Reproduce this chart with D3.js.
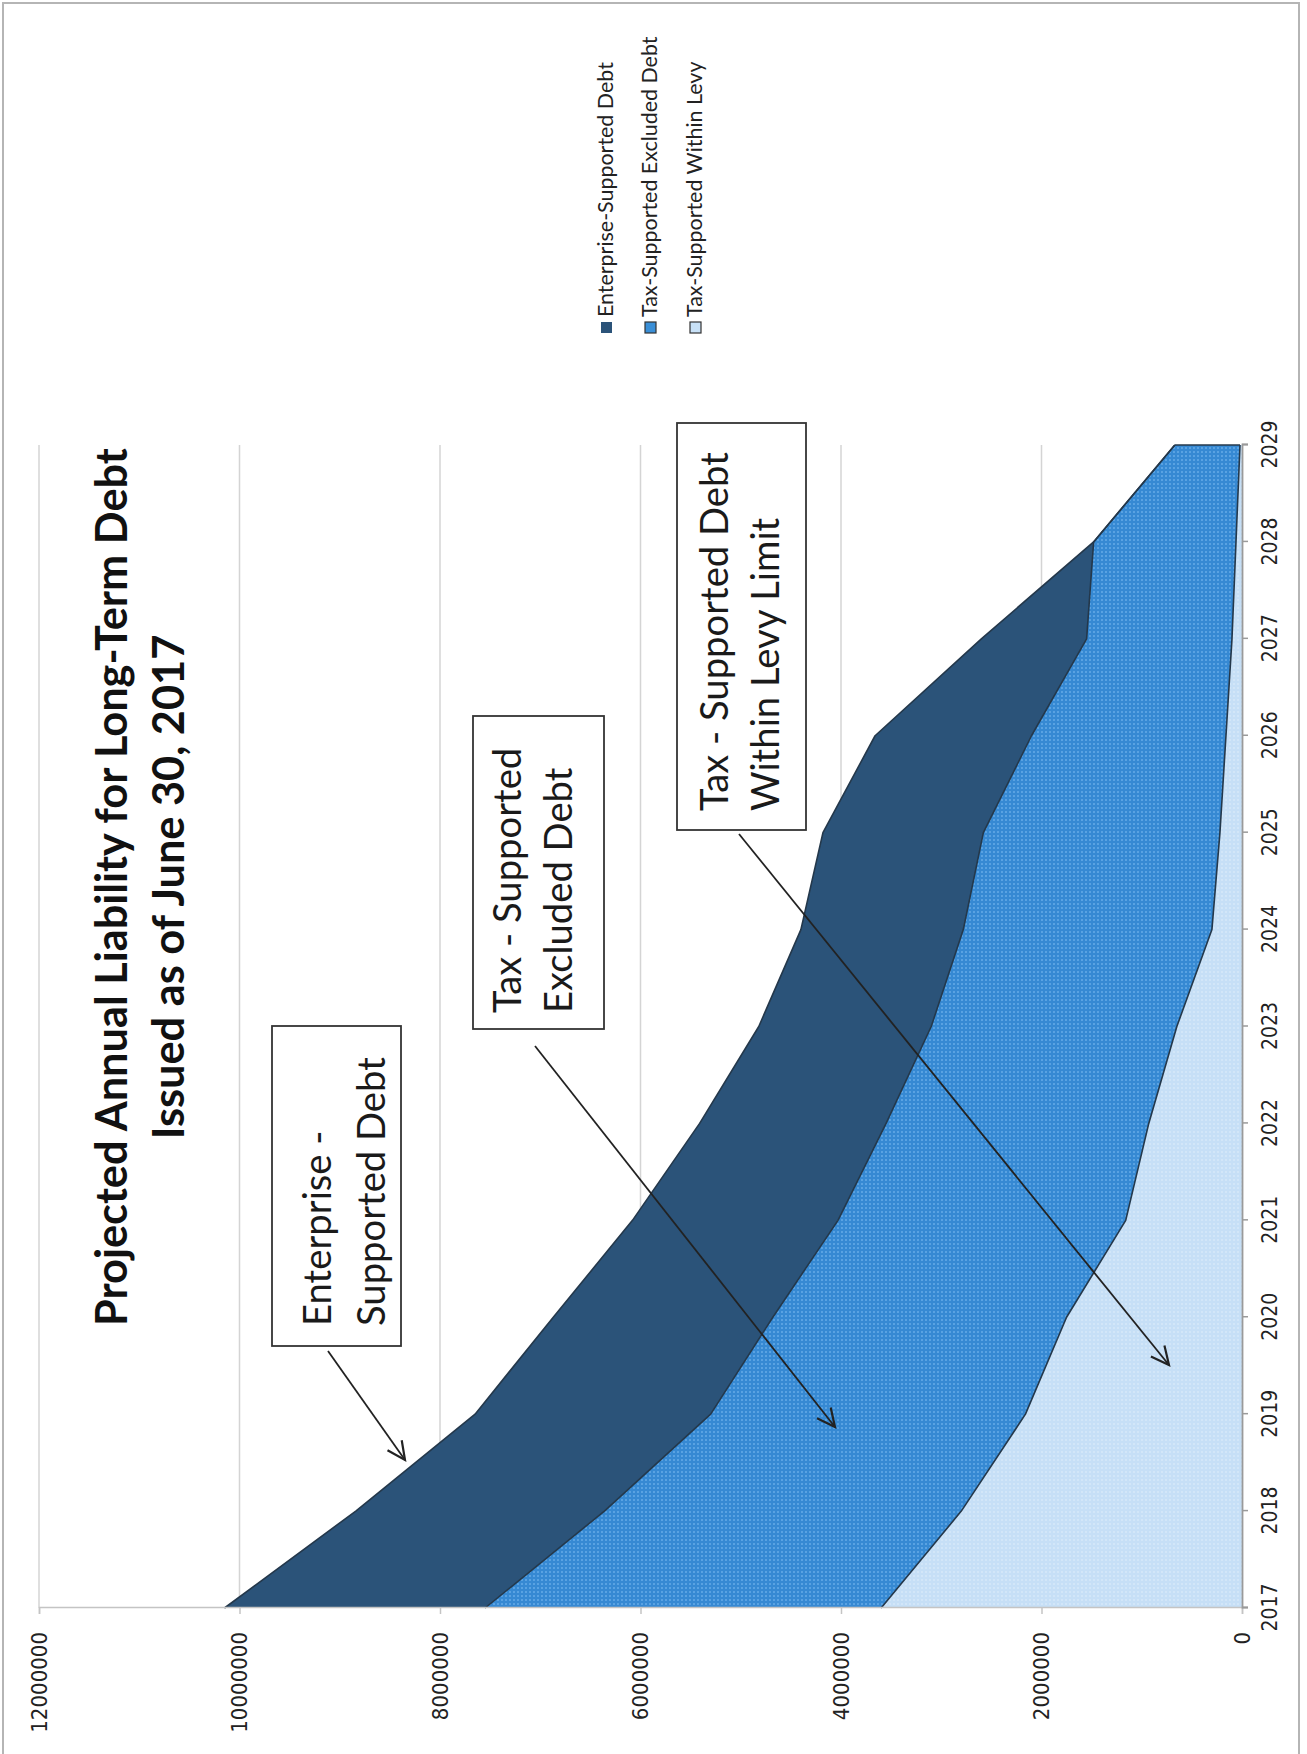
<!DOCTYPE html>
<html>
<head>
<meta charset="utf-8">
<script src="https://cdn.jsdelivr.net/npm/d3@7"></script>
<style>
  html, body { margin: 0; padding: 0; background: #fff; }
  svg { display: block; }
</style>
</head>
<body>
<svg id="chart" width="1307" height="1754"></svg>
<script>
// Fiscal years shown on the category axis
const years = [2017, 2018, 2019, 2020, 2021, 2022, 2023, 2024, 2025, 2026, 2027, 2028, 2029];

// Annual liability per category (dollars)
const withinLevy = [3600000, 2800000, 2160000, 1750000, 1160000, 930000, 650000, 300000, 220000, 160000, 100000, 60000, 20000];
const excludedDebt = [3950000, 3560000, 3140000, 2930000, 2870000, 2620000, 2450000, 2480000, 2360000, 1940000, 1450000, 1420000, 650000];
const enterpriseDebt = [2600000, 2480000, 2350000, 2190000, 2050000, 1860000, 1720000, 1620000, 1600000, 1560000, 1050000, 0, 0];

// Value axis ticks
const valueTicks = [0, 2000000, 4000000, 6000000, 8000000, 10000000, 12000000];

// Series in stacking order (bottom first); legend lists them top first
const seriesKeys = ["levy", "excluded", "enterprise"];
const seriesNames = {
  enterprise: "Enterprise-Supported Debt",
  excluded: "Tax-Supported Excluded Debt",
  levy: "Tax-Supported Within Levy"
};
const seriesColors = { enterprise: "#2b5379", excluded: "#3a8fd7", levy: "#c8e1f7" };

const titleLines = ["Projected Annual Liability for Long-Term Debt", "Issued as of June 30, 2017"];

const table = years.map((yr, i) => ({
  year: yr,
  levy: withinLevy[i],
  excluded: excludedDebt[i],
  enterprise: enterpriseDebt[i]
}));

const svg = d3.select("#chart");
const W = 1307, H = 1754;

// page frame
svg.append("rect")
  .attr("x", 3).attr("y", 3).attr("width", 1296).attr("height", H + 10)
  .attr("fill", "#fff").attr("stroke", "#b5b5b5").attr("stroke-width", 2);

// The chart is laid out landscape and turned a quarter turn on the page
const g = svg.append("g").attr("transform", `translate(0,${H}) rotate(-90)`);

const defs = svg.append("defs");
const dots = defs.append("pattern")
  .attr("id", "dotsMid").attr("width", 4).attr("height", 4)
  .attr("patternUnits", "userSpaceOnUse");
dots.append("rect").attr("width", 4).attr("height", 4).attr("fill", "#3689d3");
dots.append("circle").attr("cx", 2).attr("cy", 2).attr("r", 0.9).attr("fill", "#6aaeea");

const dotsLight = defs.append("pattern")
  .attr("id", "dotsLight").attr("width", 4).attr("height", 4)
  .attr("patternUnits", "userSpaceOnUse");
dotsLight.append("rect").attr("width", 4).attr("height", 4).attr("fill", "#c6dff6");
dotsLight.append("circle").attr("cx", 2).attr("cy", 2).attr("r", 0.9).attr("fill", "#d8eafa");

const fills = { enterprise: seriesColors.enterprise, excluded: "url(#dotsMid)", levy: "url(#dotsLight)" };

// scales (landscape coordinates)
const x = d3.scalePoint().domain(years).range([146, 1309]).padding(0);
const y = d3.scaleLinear().domain([0, 12000000]).range([1242, 39]);

// gridlines
g.append("g")
  .selectAll("line")
  .data(valueTicks.filter(v => v > 0))
  .join("line")
  .attr("x1", x(years[0])).attr("x2", x(years[years.length - 1]))
  .attr("y1", d => y(d)).attr("y2", d => y(d))
  .attr("stroke", "#d4d4d4").attr("stroke-width", 1.5);

// stacked areas
const stack = d3.stack().keys(seriesKeys);
const layers = stack(table);

const area = d3.area()
  .x(d => x(d.data.year))
  .y0(d => y(d[0]))
  .y1(d => y(d[1]));

g.append("g")
  .selectAll("path")
  .data(layers)
  .join("path")
  .attr("d", area)
  .attr("fill", d => fills[d.key]);

// series outlines along each upper edge
const topLine = d3.line().x(d => x(d.data.year)).y(d => y(d[1]));
g.append("g")
  .selectAll("path")
  .data(layers)
  .join("path")
  .attr("d", topLine)
  .attr("fill", "none")
  .attr("stroke", "#24384b")
  .attr("stroke-width", 1.6)
  .attr("stroke-linejoin", "round");

// closing edge at the last year
const last = layers[layers.length - 1][years.length - 1];
g.append("line")
  .attr("x1", x(years[years.length - 1])).attr("x2", x(years[years.length - 1]))
  .attr("y1", y(layers[0][years.length - 1][1])).attr("y2", y(last[1]))
  .attr("stroke", "#24384b").attr("stroke-width", 1.6);

// value axis
const yAxis = g.append("g").attr("transform", `translate(${x(years[0])},0)`)
  .call(d3.axisLeft(y).tickValues(valueTicks).tickFormat(d3.format("d")).tickSize(6).tickPadding(18));
yAxis.select(".domain").attr("stroke", "#c4c4c4").attr("stroke-width", 1.5);
yAxis.selectAll(".tick line").attr("stroke", "#c4c4c4").attr("stroke-width", 1.5);
yAxis.selectAll("text")
  .attr("font-family", "'DejaVu Sans Condensed', 'DejaVu Sans', sans-serif")
  .attr("font-size", 22).attr("fill", "#222");

// category axis
const xAxis = g.append("g").attr("transform", `translate(0,${y(0)})`)
  .call(d3.axisBottom(x).tickSize(6).tickPadding(22));
xAxis.select(".domain").attr("stroke", "#9a9a9a").attr("stroke-width", 1.8);
xAxis.selectAll(".tick line").attr("stroke", "#9a9a9a").attr("stroke-width", 1.5);
xAxis.selectAll("text")
  .attr("font-family", "'DejaVu Sans Condensed', 'DejaVu Sans', sans-serif")
  .attr("font-size", 21).attr("fill", "#222").attr("dy", "0.35em");

// fit a text element's font size to a width
function fitWidth(sel, width) {
  const w = sel.node().getComputedTextLength();
  const fs = parseFloat(sel.attr("font-size"));
  sel.attr("font-size", (fs * width / w).toFixed(2));
  return fs * width / w;
}

// title
const t1 = g.append("text")
  .attr("x", 867).attr("y", 127).attr("text-anchor", "middle")
  .attr("font-family", "Lato, 'Open Sans', sans-serif").attr("font-weight", 700)
  .attr("font-size", 40).attr("fill", "#111").text(titleLines[0]);
const titleSize = fitWidth(t1, 878);
g.append("text")
  .attr("x", 867).attr("y", 184).attr("text-anchor", "middle")
  .attr("font-family", "Lato, 'Open Sans', sans-serif").attr("font-weight", 700)
  .attr("font-size", titleSize).attr("fill", "#111").text(titleLines[1]);

// legend
const legendOrder = ["enterprise", "excluded", "levy"];
const legendRows = [613, 657, 702];
const lg = g.append("g");
legendOrder.forEach((k, i) => {
  lg.append("rect")
    .attr("x", 1421).attr("y", legendRows[i] - 12).attr("width", 11).attr("height", 11)
    .attr("fill", seriesColors[k])
    .attr("stroke", k === "enterprise" ? "none" : "#333").attr("stroke-width", 1.2);
  const t = lg.append("text")
    .attr("x", 1437).attr("y", legendRows[i])
    .attr("font-family", "Lato, 'Open Sans', sans-serif")
    .attr("font-size", 20).attr("fill", "#222").text(seriesNames[k]);
  if (i === 0) lg.attr("data-size", fitWidth(t, 255));
});
const legendSize = lg.attr("data-size");
lg.selectAll("text").attr("font-size", legendSize);

// callout boxes with arrows
const callouts = [
  { lines: ["Enterprise -", "Supported Debt"], box: [408, 272, 728, 401], text: [428, 331, 385],
    arrow: [403, 328, 294, 405] },
  { lines: ["Tax - Supported", "Excluded Debt"], box: [725, 473, 1038, 604], text: [741, 521, 572],
    arrow: [708, 535, 327, 835] },
  { lines: ["Tax - Supported Debt", "Within Levy Limit"], box: [924, 677, 1331, 806], text: [943, 728, 779],
    arrow: [920, 739, 389, 1169] }
];

const cg = g.append("g");
let calloutSize = 38;
callouts.forEach((c, i) => {
  cg.append("rect")
    .attr("x", c.box[0]).attr("y", c.box[1])
    .attr("width", c.box[2] - c.box[0]).attr("height", c.box[3] - c.box[1])
    .attr("fill", "#fff").attr("stroke", "#333").attr("stroke-width", 1.8);
  c.lines.forEach((ln, j) => {
    const t = cg.append("text")
      .attr("x", c.text[0]).attr("y", c.text[1 + j])
      .attr("font-family", "Lato, 'Open Sans', sans-serif")
      .attr("font-size", calloutSize).attr("fill", "#1a1a1a")
      .attr("xml:space", "preserve").text(ln);
    if (i === 0 && j === 1) calloutSize = fitWidth(t, 269);
  });
});
cg.selectAll("text").attr("font-size", calloutSize);

const ag = g.append("g").attr("stroke", "#222").attr("stroke-width", 1.8).attr("fill", "none");
callouts.forEach(c => {
  const [u1, v1, u2, v2] = c.arrow;
  ag.append("line").attr("x1", u1).attr("y1", v1).attr("x2", u2).attr("y2", v2);
  const ang = Math.atan2(v2 - v1, u2 - u1);
  const L = 20, spread = 0.45;
  const p1 = [u2 - L * Math.cos(ang - spread), v2 - L * Math.sin(ang - spread)];
  const p2 = [u2 - L * Math.cos(ang + spread), v2 - L * Math.sin(ang + spread)];
  ag.append("path")
    .attr("d", `M${p1[0]},${p1[1]} L${u2},${v2} L${p2[0]},${p2[1]}`)
    .attr("stroke-width", 2.2);
});
</script>
</body>
</html>
